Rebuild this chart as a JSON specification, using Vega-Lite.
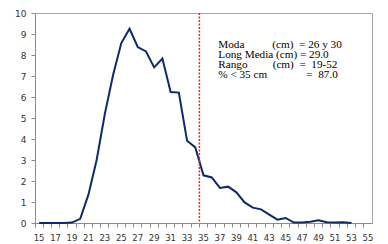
{
  "$schema": "https://vega.github.io/schema/vega-lite/v6.json",
  "width": 337,
  "height": 210,
  "autosize": {"type": "none"},
  "padding": {"left": 35, "top": 13, "right": 16, "bottom": 21},
  "background": "white",
  "config": {
    "view": {"stroke": "#a6a6a6", "strokeWidth": 1},
    "axis": {"grid": false, "domainColor": "#8c8c8c", "tickColor": "#8c8c8c", "labelColor": "#333333", "labelFont": "DejaVu Sans", "title": null},
    "axisY": {"tickCount": 11, "tickMinStep": 1, "labelOverlap": false}
  },
  "encoding": {
    "x": {
      "field": "len", "type": "ordinal",
      "scale": {"type": "band", "domain": [15,16,17,18,19,20,21,22,23,24,25,26,27,28,29,30,31,32,33,34,35,36,37,38,39,40,41,42,43,44,45,46,47,48,49,50,51,52,53,54,55], "paddingInner": 0, "paddingOuter": 0},
      "axis": {
        "labelAngle": 0, "bandPosition": 0, "tickExtra": true, "tickSize": 4,
        "labelExpr": "datum.value % 2 == 1 ? datum.label : ''",
        "labelFontSize": 8.5, "labelPadding": 6, "labelOverlap": false
      }
    },
    "y": {
      "field": "pct", "type": "quantitative",
      "scale": {"type": "linear", "domain": [0, 10], "nice": false, "zero": true},
      "axis": {"values": [0,1,2,3,4,5,6,7,8,9,10], "tickCount": 11, "tickMinStep": 1, "labelOverlap": false, "labelSeparation": 0, "tickSize": 4, "labelFontSize": 9, "labelPadding": 5, "labelExpr": "datum.label"}
    }
  },
  "layer": [
    {
      "data": {"values": [
        {"len": 15, "pct": 0}, {"len": 16, "pct": 0}, {"len": 17, "pct": 0}, {"len": 18, "pct": 0},
        {"len": 19, "pct": 0.02}, {"len": 20, "pct": 0.2}, {"len": 21, "pct": 1.35}, {"len": 22, "pct": 3.0},
        {"len": 23, "pct": 5.2}, {"len": 24, "pct": 7.05}, {"len": 25, "pct": 8.57}, {"len": 26, "pct": 9.25},
        {"len": 27, "pct": 8.38}, {"len": 28, "pct": 8.17}, {"len": 29, "pct": 7.41}, {"len": 30, "pct": 7.83},
        {"len": 31, "pct": 6.24}, {"len": 32, "pct": 6.21}, {"len": 33, "pct": 3.92}, {"len": 34, "pct": 3.6},
        {"len": 35, "pct": 2.27}, {"len": 36, "pct": 2.17}, {"len": 37, "pct": 1.67}, {"len": 38, "pct": 1.73},
        {"len": 39, "pct": 1.46}, {"len": 40, "pct": 0.98}, {"len": 41, "pct": 0.73}, {"len": 42, "pct": 0.65},
        {"len": 43, "pct": 0.4}, {"len": 44, "pct": 0.16}, {"len": 45, "pct": 0.24}, {"len": 46, "pct": 0.02},
        {"len": 47, "pct": 0.02}, {"len": 48, "pct": 0.06}, {"len": 49, "pct": 0.13}, {"len": 50, "pct": 0.04},
        {"len": 51, "pct": 0.02}, {"len": 52, "pct": 0.03}, {"len": 53, "pct": 0}
      ]},
      "mark": {"type": "line", "color": "#0f2a6b", "strokeWidth": 2}
    },
    {
      "data": {"values": [{"len": 35}]},
      "mark": {"type": "rule", "color": "#ff1a1a", "strokeWidth": 1.5, "strokeDash": [2, 1.5]},
      "encoding": {"x": {"field": "len", "type": "ordinal", "bandPosition": 0}, "y": null}
    },
    {
      "data": {"values": [{"len": 37, "pct": 8.5, "txt": "Moda\u00a0\u00a0\u00a0\u00a0\u00a0\u00a0\u00a0\u00a0\u00a0\u00a0(cm)\u00a0\u00a0= 26 y 30\nLong Media (cm) = 29.0\nRango\u00a0\u00a0\u00a0\u00a0\u00a0\u00a0\u00a0\u00a0\u00a0(cm)\u00a0\u00a0=\u00a0\u00a019-52\n% < 35 cm\u00a0\u00a0\u00a0\u00a0\u00a0\u00a0\u00a0\u00a0\u00a0\u00a0\u00a0\u00a0\u00a0\u00a0=\u00a0\u00a087.0"}]},
      "mark": {"type": "text", "font": "Liberation Serif", "fontSize": 11.2, "align": "left", "baseline": "middle", "lineBreak": "\n", "lineHeight": 10, "color": "#000000"},
      "encoding": {
        "x": {"field": "len", "type": "ordinal", "bandPosition": 0.3},
        "text": {"field": "txt"}
      }
    }
  ]
}
